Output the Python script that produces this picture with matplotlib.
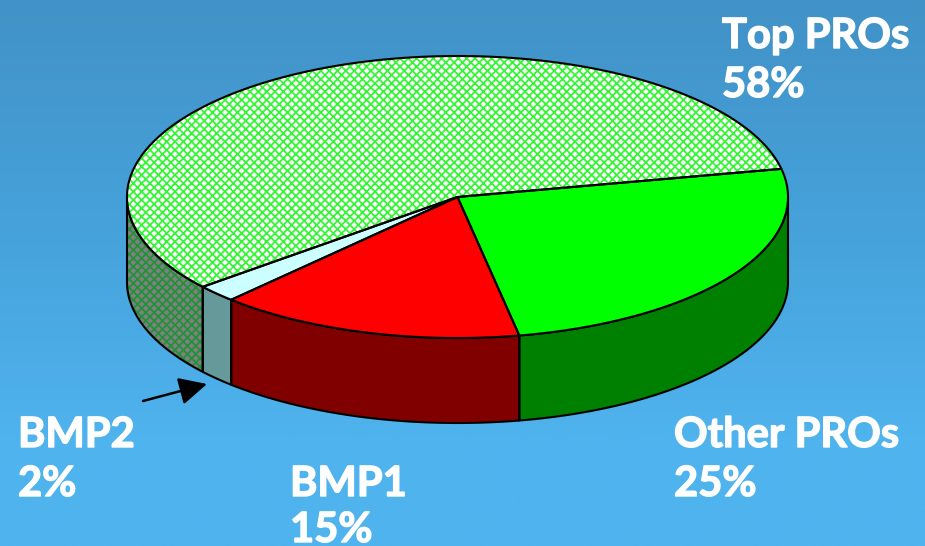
import numpy as np
import matplotlib
matplotlib.use("Agg")
import matplotlib.pyplot as plt
import matplotlib.patheffects as pe
from matplotlib.colors import LinearSegmentedColormap
from matplotlib.patches import Polygon

plt.rcParams['font.family'] = ['Lato', 'Liberation Sans', 'DejaVu Sans']
plt.rcParams['hatch.linewidth'] = 1.25

# clockwise from the right hand edge
names = ["Other PROs", "BMP1", "BMP2", "Top PROs"]
shares = [25.2, 15, 2, 57.8]
top_colors = ["#00ff00", "#ff0000", "#ccffff", "#ffffff"]
side_colors = ["#008000", "#800000", "#669999", "#808080"]
top_hatch = [None, None, None, "xxxx"]
side_hatch = [None, None, None, "xxxx"]
hatch_colors = [None, None, None, "#30f830"]
side_hatch_color = "#1f9238"

label_x = [674, 290, 18, 722]
label_y = [447, 496, 447, 48]
line_gap = 49

cx, cy, rx, ry, depth = 457.5, 197, 330.5, 141, 85
start = 11.5

fig = plt.figure(figsize=(9.25, 5.46), dpi=100)
ax = fig.add_axes([0, 0, 1, 1])
ax.set_xlim(0, 925)
ax.set_ylim(546, 0)
ax.axis("off")

bg = LinearSegmentedColormap.from_list("bg", [(0, "#4192c7"), (0.45, "#47a3dc"), (0.8, "#4fb3ee"), (1, "#4fb3ee")])
ax.imshow(np.linspace(0, 1, 256).reshape(-1, 1), cmap=bg, extent=(0, 925, 546, 0), aspect="auto", zorder=0)


def arc(t0, t1, drop=0):
    t = np.radians(np.linspace(t0, t1, 200))
    return np.column_stack([cx + rx * np.cos(t), cy - ry * np.sin(t) + drop])


def fill(pts, face, hatch, hatch_color, z):
    if hatch:
        ax.add_patch(Polygon(pts, closed=True, facecolor=face, edgecolor=hatch_color, hatch=hatch, lw=0, zorder=z))
    else:
        ax.add_patch(Polygon(pts, closed=True, facecolor=face, edgecolor="none", zorder=z))
    ax.add_patch(Polygon(pts, closed=True, facecolor="none", edgecolor="black", lw=1.5, zorder=z + 0.5, joinstyle="round"))


# angles run clockwise, so each slice goes from a to a - sweep
a = start
for i, share in enumerate(shares):
    b = a - share * 3.6
    # the wall only shows on the lower half of the ellipse
    lo, hi = max(b, -180), min(a, 0)
    if hi > lo:
        wall = np.vstack([arc(hi, lo), arc(lo, hi, depth)])
        fill(wall, side_colors[i], side_hatch[i], side_hatch_color, 2)
    a = b

a = start
for i, share in enumerate(shares):
    b = a - share * 3.6
    pts = np.vstack([[cx, cy], arc(a, b)])
    fill(pts, top_colors[i], top_hatch[i], hatch_colors[i], 4)
    a = b

ax.annotate("", xy=(207, 384), xytext=(143, 401), zorder=6,
            arrowprops=dict(arrowstyle="-|>,head_length=0.85,head_width=0.42", color="black", lw=1.8,
                            shrinkA=0, shrinkB=0, mutation_scale=20))

bold = [pe.withStroke(linewidth=1.0, foreground="white")]
for name, share, x, y in zip(names, shares, label_x, label_y):
    ax.text(x, y, name, color="white", fontsize=30, fontweight="bold", va="baseline", ha="left", zorder=7, path_effects=bold)
    ax.text(x, y + line_gap - 3 * (y > 490), f"{round(share)}%", color="white", fontsize=30, fontweight="bold", va="baseline", ha="left", zorder=7, path_effects=bold)

fig.savefig("out.png", dpi=100)
